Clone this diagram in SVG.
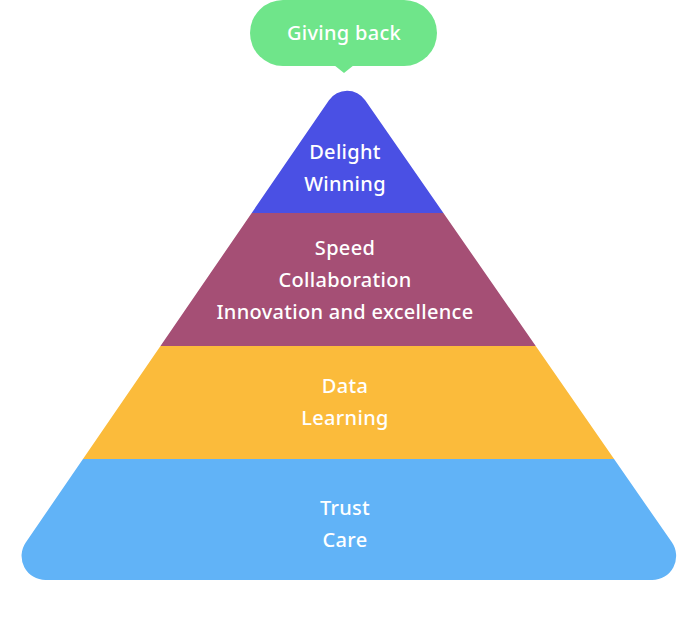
<svg xmlns="http://www.w3.org/2000/svg" width="700" height="642" viewBox="0 0 700 642">
  <style>
    .lbl { font-family: "Noto Sans", Lato, "Liberation Sans", sans-serif; font-size: 20px; font-weight: 500; letter-spacing: 0.3px; fill: #ffffff; text-anchor: middle; }
  </style>
  <defs>
    <clipPath id="pyr">
      <path d="M 328.96 100.31 A 22 22 0 0 1 365.18 100.21 L 671.87 542.33 A 24 24 0 0 1 652.15 580 L 45.56 580 A 24 24 0 0 1 25.76 542.43 Z"/>
    </clipPath>
  </defs>
  <rect width="700" height="642" fill="#ffffff"/>
  <g id="callout">
    <rect x="250" y="0" width="187" height="66" rx="33" fill="#6FE58A"/>
    <path d="M 334 65 L 344 73 L 354 65 Z" fill="#6FE58A"/>
    <text class="lbl" x="344" y="40">Giving back</text>
  </g>
  <g clip-path="url(#pyr)">
    <g id="level4">
      <rect x="0" y="60" width="700" height="153" fill="#4A50E4"/>
      <text class="lbl" x="345" y="159">Delight</text>
      <text class="lbl" x="345" y="191">Winning</text>
    </g>
    <g id="level3">
      <rect x="0" y="213" width="700" height="133" fill="#A54F75"/>
      <text class="lbl" x="345" y="255">Speed</text>
      <text class="lbl" x="345" y="287">Collaboration</text>
      <text class="lbl" x="345" y="319">Innovation and excellence</text>
    </g>
    <g id="level2">
      <rect x="0" y="346" width="700" height="113" fill="#FBBB3B"/>
      <text class="lbl" x="345" y="393">Data</text>
      <text class="lbl" x="345" y="425">Learning</text>
    </g>
    <g id="level1">
      <rect x="0" y="459" width="700" height="130" fill="#61B3F7"/>
      <text class="lbl" x="345" y="515">Trust</text>
      <text class="lbl" x="345" y="547">Care</text>
    </g>
  </g>
  <g id="connectors"></g>
</svg>
